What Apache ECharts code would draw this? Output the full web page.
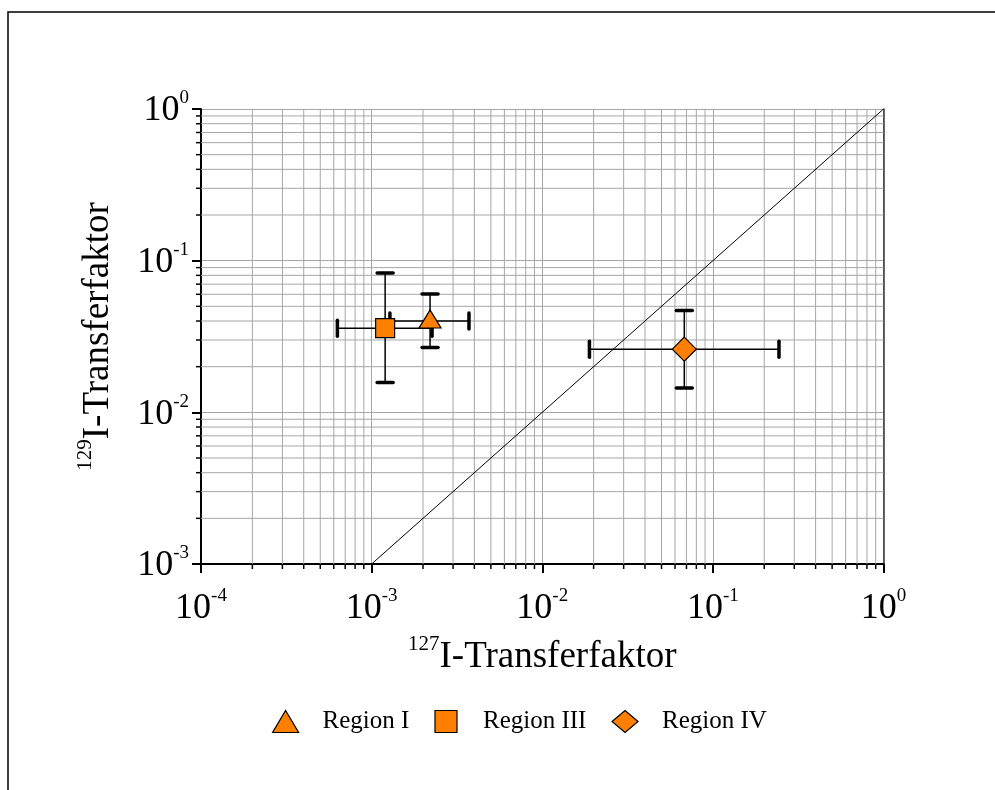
<!DOCTYPE html>
<html>
<head>
<meta charset="utf-8">
<script src="https://cdn.jsdelivr.net/npm/echarts@6/dist/echarts.min.js"></script>
<style>
  html, body { margin: 0; padding: 0; background: #fff; }
  #chart { width: 995px; height: 790px; }
</style>
</head>
<body>
<div id="chart"></div>
<script>
// Transfer factors: 127I (x) vs 129I (y), with min/max ranges
const regionNames = ['Region I', 'Region III', 'Region IV'];
const regionSymbols = ['triangle', 'rect', 'diamond'];
const x127 = [0.0022, 0.0012, 0.068];
const x127Low = [0.00128, 0.00063, 0.0189];
const x127High = [0.00372, 0.00226, 0.244];
const y129 = [0.040, 0.0359, 0.0261];
const y129Low = [0.0268, 0.0157, 0.01445];
const y129High = [0.0602, 0.0828, 0.0469];

// 1:1 reference line
const identityLine = [[0.001, 0.001], [1, 1]];

// axis ranges (decades)
const xDecades = [-4, -3, -2, -1];
const yDecades = [-3, -2, -1];
const minorSteps = [2, 3, 4, 5, 6, 7, 8, 9];

const SERIF = '"Liberation Serif", "DejaVu Serif", serif';
const ORANGE = '#ff8000';

function minorValues(decades) {
  const out = [];
  decades.forEach(d => minorSteps.forEach(m => out.push(m * Math.pow(10, d))));
  return out;
}
const xMinor = minorValues(xDecades);
const yMinor = minorValues(yDecades);

function powLabel(v) {
  const e = Math.round(Math.log10(v));
  return '{b|10}{s|' + e + '}';
}
const tickRich = {
  b: { fontFamily: SERIF, fontSize: 36, color: '#000', verticalAlign: 'bottom', lineHeight: 40 },
  s: { fontFamily: SERIF, fontSize: 19, color: '#000', verticalAlign: 'top', lineHeight: 40 }
};
const nameRich = {
  b: { fontFamily: SERIF, fontSize: 37, color: '#000', verticalAlign: 'bottom', lineHeight: 42 },
  s: { fontFamily: SERIF, fontSize: 21, color: '#000', verticalAlign: 'top', lineHeight: 42 }
};

// minor grid lines + short outward ticks along an axis
function minorGridSeries(values, dim) {
  return {
    type: 'custom',
    silent: true,
    z: 1,
    data: values.map(v => [v]),
    encode: dim === 'x' ? { x: 0 } : { y: 0 },
    renderItem: function (params, api) {
      const cs = params.coordSys;
      const v = api.value(0);
      if (dim === 'x') {
        const px = api.coord([v, 1])[0];
        return { type: 'group', children: [
          { type: 'line', shape: { x1: px, y1: cs.y, x2: px, y2: cs.y + cs.height }, style: { stroke: '#a6a6a6', lineWidth: 1 } },
          { type: 'line', shape: { x1: px, y1: cs.y + cs.height, x2: px, y2: cs.y + cs.height + 5 }, style: { stroke: '#000', lineWidth: 1.5 } }
        ]};
      }
      const py = api.coord([1, v])[1];
      return { type: 'group', children: [
        { type: 'line', shape: { x1: cs.x, y1: py, x2: cs.x + cs.width, y2: py }, style: { stroke: '#a6a6a6', lineWidth: 1 } },
        { type: 'line', shape: { x1: cs.x - 5, y1: py, x2: cs.x, y2: py }, style: { stroke: '#000', lineWidth: 1.5 } }
      ]};
    }
  };
}

// error bars (drawn below markers)
const errorData = x127.map((x, i) => [x, y129[i], x127Low[i], x127High[i], y129Low[i], y129High[i]]);
const errorSeries = {
  type: 'custom',
  silent: true,
  z: 3,
  data: errorData,
  encode: { x: 0, y: 1 },
  renderItem: function (params, api) {
    const c = api.coord([api.value(0), api.value(1)]);
    const xl = api.coord([api.value(2), api.value(1)])[0];
    const xh = api.coord([api.value(3), api.value(1)])[0];
    const yl = api.coord([api.value(0), api.value(4)])[1];
    const yh = api.coord([api.value(0), api.value(5)])[1];
    const stem = { stroke: '#000', lineWidth: 1.5 };
    const cap = { stroke: '#000', lineWidth: 3.5, lineCap: 'round' };
    const h = 8;
    return { type: 'group', children: [
      { type: 'line', shape: { x1: xl, y1: c[1], x2: xh, y2: c[1] }, style: stem },
      { type: 'line', shape: { x1: c[0], y1: yl, x2: c[0], y2: yh }, style: stem },
      { type: 'line', shape: { x1: xl, y1: c[1] - h, x2: xl, y2: c[1] + h }, style: cap },
      { type: 'line', shape: { x1: xh, y1: c[1] - h, x2: xh, y2: c[1] + h }, style: cap },
      { type: 'line', shape: { x1: c[0] - h, y1: yl, x2: c[0] + h, y2: yl }, style: cap },
      { type: 'line', shape: { x1: c[0] - h, y1: yh, x2: c[0] + h, y2: yh }, style: cap }
    ]};
  }
};

const symbolSizes = [[22, 18], 19, 24];
const symbolOffsets = [[0, -2], [0, 0], [0, 0]];
const pointSeries = regionNames.map((name, i) => ({
  name: name,
  type: 'scatter',
  z: 5,
  symbol: regionSymbols[i],
  symbolSize: symbolSizes[i],
  symbolOffset: symbolOffsets[i],
  itemStyle: { color: ORANGE, borderColor: '#000', borderWidth: 1.2, opacity: 1 },
  data: [[x127[i], y129[i]]]
}));

// legend icons: square kept at 1:1 aspect
const legendIcons = ['triangle', 'path://M0,0L10,0L10,10L0,10Z', 'diamond'];

const chart = echarts.init(document.getElementById('chart'), null, { renderer: 'canvas' });
chart.setOption({
  animation: false,
  backgroundColor: '#fff',
  graphic: [{
    type: 'polyline',
    shape: { points: [[8, 790], [8, 12], [995, 12]] },
    style: { stroke: '#000', lineWidth: 1.5, fill: null },
    silent: true
  }],
  grid: { left: 201, right: 111.5, top: 109, bottom: 226, containLabel: false },
  xAxis: {
    type: 'log', logBase: 10, min: 0.0001, max: 1,
    name: '{s|127}{b|I-Transferfaktor}',
    nameLocation: 'middle', nameGap: 70,
    nameTextStyle: { rich: nameRich },
    axisLine: { show: true, onZero: false, lineStyle: { color: '#000', width: 2 } },
    axisTick: { show: true, inside: false, length: 9, lineStyle: { color: '#000', width: 2 } },
    axisLabel: { formatter: powLabel, rich: tickRich, margin: 23 },
    splitLine: { show: true, lineStyle: { color: '#a6a6a6', width: 1 } },
    minorTick: { show: false }
  },
  yAxis: [{
    type: 'log', logBase: 10, min: 0.001, max: 1,
    name: '{s|129}{b|I-Transferfaktor}',
    nameLocation: 'middle', nameGap: 84, nameRotate: 90,
    nameTextStyle: { rich: nameRich },
    axisLine: { show: true, onZero: false, lineStyle: { color: '#000', width: 2 } },
    axisTick: { show: true, inside: false, length: 9, lineStyle: { color: '#000', width: 2 } },
    axisLabel: { formatter: powLabel, rich: tickRich, margin: 12 },
    splitLine: { show: true, lineStyle: { color: '#a6a6a6', width: 1 } },
    minorTick: { show: false }
  }, {
    type: 'log', logBase: 10, min: 0.001, max: 1, position: 'right',
    axisLine: { show: true, lineStyle: { color: '#333', width: 1.5 } },
    axisTick: { show: false }, axisLabel: { show: false }, splitLine: { show: false }
  }],
  legend: {
    left: 267, top: 704,
    itemWidth: 26, itemHeight: 22, itemGap: 25,
    symbolKeepAspect: true,
    data: regionNames.map((n, i) => ({ name: n, icon: legendIcons[i] })),
    itemStyle: { color: ORANGE, borderColor: '#000', borderWidth: 1.2 },
    textStyle: { fontFamily: SERIF, fontSize: 25, color: '#000', padding: [0, 0, 0, 19] }
  },
  series: [
    minorGridSeries(xMinor, 'x'),
    minorGridSeries(yMinor, 'y'),
    {
      type: 'line', silent: true, z: 2, symbol: 'none',
      lineStyle: { color: '#000', width: 1 },
      data: identityLine
    },
    errorSeries
  ].concat(pointSeries)
});
</script>
</body>
</html>
